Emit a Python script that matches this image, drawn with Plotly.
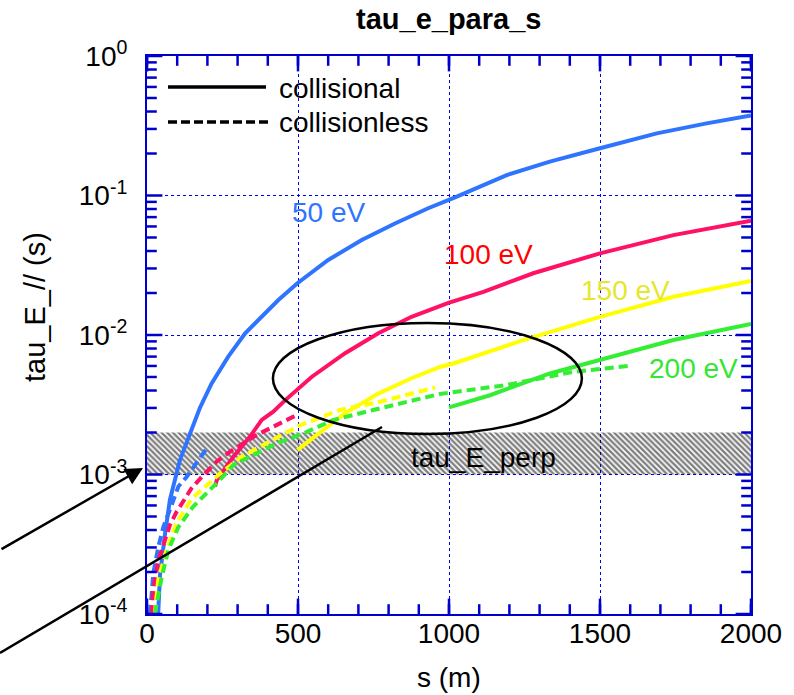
import plotly.graph_objects as go
import numpy as np

# ---------------- data ----------------
s_50_col = [37, 43, 60, 76, 109, 142, 175, 214, 269, 325, 380, 435, 498, 600, 711, 821, 931, 1020, 1191, 1334, 1500, 1688, 1853, 2000]
t_50_col = [1.0e-4, 1.9e-4, 3.8e-4, 6.6e-4, 1.27e-3, 1.97e-3, 3.0e-3, 4.5e-3, 7.0e-3, 1.03e-2, 1.35e-2, 1.78e-2, 2.35e-2, 3.45e-2, 4.8e-2, 6.3e-2, 8.1e-2, 0.097, 0.14, 0.175, 0.218, 0.279, 0.329, 0.375]

s_100_col = [225, 231, 286, 341, 380, 418, 457, 545, 656, 766, 876, 998, 1114, 1279, 1500, 1743, 2000]
t_100_col = [8.2e-4, 9.1e-4, 1.34e-3, 1.87e-3, 2.46e-3, 2.82e-3, 3.4e-3, 5.0e-3, 7.4e-3, 1.03e-2, 1.35e-2, 1.7e-2, 2.04e-2, 2.77e-2, 3.85e-2, 5.2e-2, 0.066]

s_150_col = [498, 573, 656, 766, 876, 970, 1020, 1246, 1500, 1743, 2000]
t_150_col = [1.5e-3, 2.0e-3, 2.75e-3, 3.8e-3, 4.9e-3, 5.9e-3, 6.3e-3, 9.2e-3, 1.35e-2, 1.88e-2, 2.44e-2]

s_200_col = [1000, 1136, 1334, 1500, 1743, 2000]
t_200_col = [3.03e-3, 3.7e-3, 5.3e-3, 6.6e-3, 9.2e-3, 1.2e-2]

s_50_cl = [10, 21, 37, 54, 76, 104, 131, 198]
t_50_cl = [1.0e-4, 1.96e-4, 3.0e-4, 4.2e-4, 5.6e-4, 8.2e-4, 9.6e-4, 1.54e-3]

s_100_cl = [15, 21, 37, 54, 76, 98, 120, 148, 181, 231, 275, 363, 451, 496]
t_100_cl = [1.0e-4, 1.5e-4, 2.4e-4, 3.1e-4, 4.35e-4, 5.4e-4, 6.4e-4, 8.0e-4, 9.6e-4, 1.24e-3, 1.46e-3, 1.92e-3, 2.39e-3, 2.67e-3]

s_150_cl = [26, 37, 65, 98, 148, 236, 313, 413, 507, 639, 766, 954]
t_150_cl = [1.0e-4, 1.75e-4, 2.9e-4, 4.5e-4, 6.7e-4, 9.9e-4, 1.34e-3, 1.77e-3, 2.26e-3, 2.9e-3, 3.3e-3, 4.2e-3]

s_200_cl = [26, 49, 71, 104, 153, 214, 247, 286, 341, 429, 518, 617, 749, 838, 970, 1191, 1412, 1594]
t_200_cl = [1.0e-4, 1.85e-4, 2.9e-4, 4.2e-4, 5.9e-4, 8.0e-4, 9.4e-4, 1.17e-3, 1.34e-3, 1.67e-3, 1.97e-3, 2.46e-3, 2.9e-3, 3.24e-3, 3.78e-3, 4.38e-3, 5.45e-3, 6.0e-3]

band_s = [0, 2000]
band_tau = [1e-3, 2e-3]

energy_labels = ["50 eV", "100 eV", "150 eV", "200 eV"]
label_s = [600, 1130, 1585, 1808]
label_tau = [0.075, 0.0375, 0.021, 0.0058]

x_tickvals = [0, 500, 1000, 1500, 2000]
x_ticktext = ["0", "500", "1000", "1500", "2000"]
x_minor = list(range(0, 2001, 100))
y_tickvals = [1e-4, 1e-3, 1e-2, 1e-1, 1]
y_ticktext = ["10<sup>-4</sup>", "10<sup>-3</sup>", "10<sup>-2</sup>", "10<sup>-1</sup>", "10<sup>0</sup>"]
y_minor = [k * 10.0 ** e for e in range(-4, 0) for k in range(2, 10)]

ell_s = [417, 1440]
ell_tau = [1.95e-3, 1.22e-2]

# ---------------- style ----------------
W, H = 794, 695
ML, MR, MT, MB = 147, 43, 56, 81
PW, PH = W - ML - MR, H - MT - MB
FONT = "Liberation Sans, Arial, sans-serif"
AX = "#0000CC"
line_cols = ["#2F74FF", "#FF1166", "#FFFF00", "#33EE33"]
label_cols = ["#2F74FF", "#FF0000", "#E6E62E", "#33E633"]
DASH = "9px,5px"


def px2paper(xp, yp):
    return (xp - ML) / PW, (H - MB - yp) / PH


fig = go.Figure()

fig.add_trace(go.Scatter(
    x=[band_s[0], band_s[1], band_s[1], band_s[0], band_s[0]],
    y=[band_tau[0], band_tau[0], band_tau[1], band_tau[1], band_tau[0]],
    mode="lines", line=dict(width=0), fill="toself",
    fillcolor="rgba(0,0,0,0)",
    fillpattern=dict(shape="\\", fgcolor="black", size=4, solidity=0.6),
    showlegend=False, hoverinfo="skip"))

cl_sets = [(s_50_cl, t_50_cl), (s_100_cl, t_100_cl), (s_150_cl, t_150_cl), (s_200_cl, t_200_cl)]
col_sets = [(s_50_col, t_50_col), (s_100_col, t_100_col), (s_150_col, t_150_col), (s_200_col, t_200_col)]

for (s, t), c in zip(col_sets, line_cols):
    fig.add_trace(go.Scatter(x=s, y=t, mode="lines", line=dict(color=c, width=4), showlegend=False))
for (s, t), c in zip(cl_sets, line_cols):
    fig.add_trace(go.Scatter(x=s, y=t, mode="lines", line=dict(color=c, width=4, dash=DASH),
                             showlegend=False))

fig.add_shape(type="circle", xref="x", yref="y", x0=ell_s[0], x1=ell_s[1],
              y0=ell_tau[0], y1=ell_tau[1], line=dict(color="black", width=2.5))

for txt, xs, yt, c in zip(energy_labels, label_s, label_tau, label_cols):
    fig.add_annotation(x=xs, y=np.log10(yt), xref="x", yref="y", text=txt, showarrow=False,
                       xanchor="center", yanchor="middle", font=dict(family=FONT, size=28, color=c))

fig.add_annotation(x=1113, y=np.log10(1.33e-3), xref="x", yref="y", text="tau_E_perp",
                   showarrow=False, xanchor="center", yanchor="middle",
                   font=dict(family=FONT, size=28, color="black"))

lx0, ly0 = px2paper(168, 87)
lx1, _ = px2paper(266, 87)
fig.add_shape(type="line", xref="paper", yref="paper", x0=lx0, x1=lx1, y0=ly0, y1=ly0,
              line=dict(color="black", width=3.5))
lx0b, ly0b = px2paper(168, 122)
lx1b, _ = px2paper(270, 122)
fig.add_shape(type="line", xref="paper", yref="paper", x0=lx0b, x1=lx1b, y0=ly0b, y1=ly0b,
              line=dict(color="black", width=3.5, dash="9px,4px"))
tx, ty = px2paper(277, 89)
fig.add_annotation(x=tx, y=ty, xref="paper", yref="paper", text="collisional", showarrow=False,
                   xanchor="left", yanchor="middle", font=dict(family=FONT, size=28, color="black"))
tx, ty = px2paper(277, 122)
fig.add_annotation(x=tx, y=ty, xref="paper", yref="paper", text="collisionless", showarrow=False,
                   xanchor="left", yanchor="middle", font=dict(family=FONT, size=28, color="black"))

ax_tip, ay_tip = px2paper(143, 468)
fig.add_annotation(x=ax_tip, y=ay_tip, xref="paper", yref="paper", text="", showarrow=True,
                   ax=-143, ay=82, arrowhead=2, arrowsize=1.4, arrowwidth=2.5, arrowcolor="black",
                   standoff=0)
a0x, a0y = px2paper(0, 653)
a1x, a1y = px2paper(382, 427)
fig.add_shape(type="line", xref="paper", yref="paper", x0=a0x, y0=a0y, x1=a1x, y1=a1y,
              line=dict(color="black", width=2.5))

yt_x, yt_y = px2paper(35, 307)
fig.add_annotation(x=yt_x, y=yt_y, xref="paper", yref="paper", text="tau_E_// (s)", textangle=-90,
                   showarrow=False, xanchor="center", yanchor="middle",
                   font=dict(family=FONT, size=29, color="black"))
xt_x, xt_y = px2paper(449, 677)
fig.add_annotation(x=xt_x, y=xt_y, xref="paper", yref="paper", text="s (m)",
                   showarrow=False, xanchor="center", yanchor="middle",
                   font=dict(family=FONT, size=28, color="black"))

tt_x, tt_y = px2paper(448, 19)
fig.add_annotation(x=tt_x, y=tt_y, xref="paper", yref="paper", text="<b>tau_e_para_s</b>",
                   showarrow=False, xanchor="center", yanchor="middle",
                   font=dict(family=FONT, size=29, color="black"))

fig.update_layout(
    width=W, height=H, margin=dict(l=ML, r=MR, t=MT, b=MB),
    paper_bgcolor="white", plot_bgcolor="white", showlegend=False,
    font=dict(family=FONT, color="black"),
)

fig.update_xaxes(range=[0, 2000], tickmode="array", tickvals=x_tickvals, ticktext=x_ticktext,
                 tickfont=dict(family=FONT, size=28, color="black"), ticklabelstandoff=-7,
                 showgrid=True, gridcolor="#0000FF", gridwidth=1, griddash="dot",
                 ticks="", showline=True, linecolor=AX, linewidth=2, mirror=True, zeroline=False)
fig.update_yaxes(type="log", range=[-4, 0], tickmode="array", tickvals=y_tickvals, ticktext=y_ticktext,
                 tickfont=dict(family=FONT, size=28, color="black"), ticklabelstandoff=12,
                 showgrid=True, gridcolor="#0000FF", gridwidth=1, griddash="dot",
                 ticks="", showline=True, linecolor=AX, linewidth=2, mirror=True, zeroline=False)

# inside tick marks: line markers on the frame, clipped to the plot area so only the inner half shows
MAJ, MIN = 11, 7
for vals, sz in ((x_tickvals, MAJ * 2), (x_minor, MIN * 2)):
    for edge in (1e-4, 1.0):
        fig.add_trace(go.Scatter(x=vals, y=[edge] * len(vals), mode="markers", cliponaxis=True,
                                 marker=dict(symbol="line-ns", size=sz, line=dict(color=AX, width=2.5)),
                                 showlegend=False, hoverinfo="skip"))
for vals, sz in ((y_tickvals, MAJ * 2), (y_minor, MIN * 2)):
    for edge in (0, 2000):
        fig.add_trace(go.Scatter(x=[edge] * len(vals), y=vals, mode="markers", cliponaxis=True,
                                 marker=dict(symbol="line-ew", size=sz, line=dict(color=AX, width=2.5)),
                                 showlegend=False, hoverinfo="skip"))

fig.write_html("out.html")
